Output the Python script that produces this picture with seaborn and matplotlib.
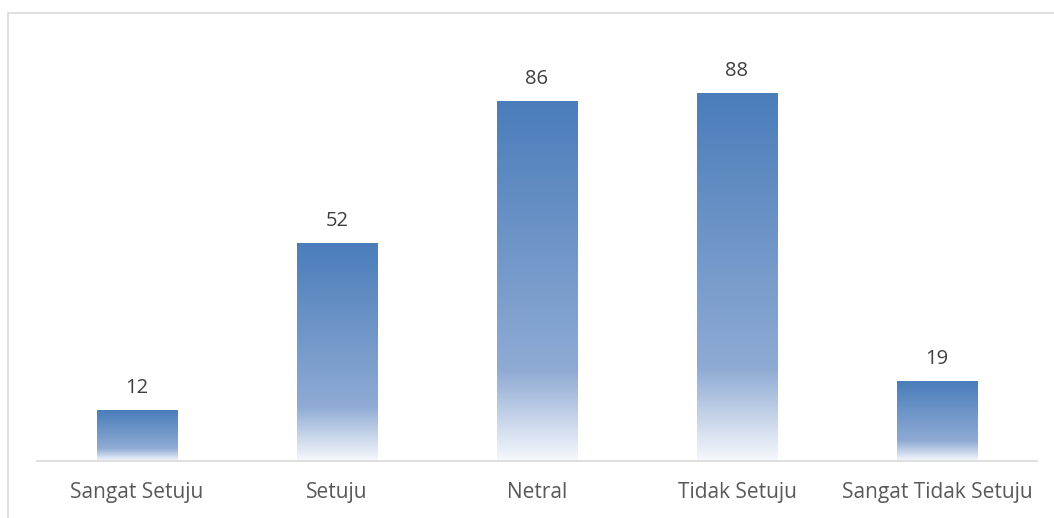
import numpy as np
import pandas as pd
import seaborn as sns
import matplotlib.pyplot as plt
from matplotlib.colors import LinearSegmentedColormap
from matplotlib.patches import Rectangle

# data
categories = ["Sangat Setuju", "Setuju", "Netral", "Tidak Setuju", "Sangat Tidak Setuju"]
counts = [12, 52, 86, 88, 19]

df = pd.DataFrame({"kategori": categories, "jumlah": counts})

sns.set_theme(style="white")
plt.rcParams['font.family'] = ['Open Sans', 'DejaVu Sans']

W, H = 1054, 518
fig = plt.figure(figsize=(W / 100, H / 100), dpi=100)
# axes placed in pixel terms: x 37..1037, baseline at y=461, top at y=40
ax = fig.add_axes([37 / W, (H - 461) / H, 1000 / W, (461 - 40) / H])

sns.barplot(data=df, x="kategori", y="jumlah", ax=ax, width=0.405,
            color="#4f81bd", saturation=1)

# gradient fill per bar (top blue -> light -> near white at bottom)
grad = LinearSegmentedColormap.from_list(
    "bar_grad",
    [(0.0, (0.965, 0.973, 0.988)), (0.25, (0.56, 0.67, 0.83)), (1.0, (0.29, 0.49, 0.73))])
col = np.linspace(0, 1, 256).reshape(-1, 1)
for p in ax.patches:
    x0, y0 = p.get_x(), p.get_y()
    w, h = p.get_width(), p.get_height()
    ax.imshow(col, cmap=grad, origin="lower", aspect="auto",
              extent=[x0, x0 + w, y0, y0 + h], zorder=2)
    p.set_visible(False)
    ax.annotate(f"{h:.0f}", (x0 + w / 2, h), xytext=(0, 9), textcoords="offset points",
                ha="center", va="bottom", fontsize=14.5, color="#404040")

ax.set_xlim(-0.5, 4.5)
ax.set_ylim(0, (461 - 40) / 4.18)
ax.set_xlabel("")
ax.set_ylabel("")
ax.set_yticks([])
ax.tick_params(axis="x", length=0, pad=15, labelsize=15, labelcolor="#595959")
for s in ["top", "left", "right"]:
    ax.spines[s].set_visible(False)
ax.spines["bottom"].set_color("#d9d9d9")
ax.spines["bottom"].set_linewidth(1.2)

# chart border (extends beyond the right/bottom edge)
fig.patches.append(Rectangle((7.5 / W, -0.1), 1.2, 1 - 13.5 / H + 0.1,
                             transform=fig.transFigure, fill=False,
                             edgecolor="#d9d9d9", linewidth=1.2))

fig.savefig("out.png", dpi=100)
